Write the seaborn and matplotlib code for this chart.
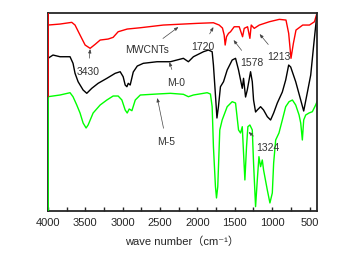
import numpy as np
import pandas as pd
import matplotlib
matplotlib.use("Agg")
import matplotlib.pyplot as plt
import seaborn as sns

# spectra (wavenumber in cm-1, transmittance in arbitrary units)
wn_cnt = [4000, 3839, 3682, 3638, 3571, 3503, 3436, 3369, 3302, 3195, 3128, 3061, 2940, 2765,
          2457, 2000, 1786, 1709, 1665, 1642, 1629, 1611, 1584, 1557, 1508, 1441, 1396, 1374,
          1329, 1298, 1280, 1240, 1172, 1038, 904, 815, 779, 748, 716, 681, 591, 501, 434, 400]
t_cnt = [186, 187, 188.7, 186, 176, 166, 162.7, 166.7, 171, 172, 173.7, 179.3, 182, 183.3,
         186, 187.7, 188.3, 186, 183, 176, 166, 174.3, 177.7, 179.3, 184.3, 184.3, 174.3, 182.7,
         184.3, 172.7, 186, 182.7, 186, 189.3, 191.7, 191, 177.7, 152.7, 167.7, 181, 186, 186, 189.3, 198]

wn_m0 = [4000, 3933, 3839, 3705, 3665, 3638, 3597, 3530, 3481, 3414, 3329, 3212, 3101, 3034,
         2994, 2967, 2944, 2926, 2900, 2859, 2805, 2725, 2541, 2363, 2188, 2121, 2054, 1920,
         1853, 1803, 1786, 1759, 1739, 1719, 1692, 1651, 1602, 1535, 1490, 1450, 1400, 1383,
         1356, 1333, 1289, 1266, 1249, 1222, 1199, 1155, 1115, 1065, 1021, 980, 931, 864,
         819, 779, 752, 685, 618, 578, 528, 484, 444, 400]
t_m0 = [152.7, 156, 154.3, 154.3, 147.7, 137.7, 129.3, 121, 117.7, 122.7, 127.7, 132.7, 137.7, 139.3,
        134.3, 126, 124.3, 127.7, 126, 139, 145, 147.7, 149.3, 149.3, 152.7, 149.3, 154.3, 159.3,
        161, 159.3, 146, 116, 93, 104.3, 124.3, 129.3, 141, 151, 152.7, 141, 122.7, 132.7,
        114, 121, 139.3, 129.3, 111, 99, 101, 104.3, 101, 94.3, 91, 98, 108, 119,
        131, 146, 144, 129.3, 111, 100, 119, 136, 166, 198]

wn_m5 = [4000, 3839, 3705, 3665, 3615, 3571, 3530, 3490, 3463, 3396, 3302, 3212, 3128, 3061,
         3011, 2967, 2940, 2913, 2877, 2832, 2765, 2541, 2363, 2188, 2121, 2054, 1870, 1826,
         1803, 1786, 1759, 1745, 1728, 1701, 1669, 1602, 1535, 1490, 1450, 1423, 1400, 1383,
         1365, 1343, 1325, 1298, 1266, 1249, 1222, 1199, 1177, 1155, 1132, 1115, 1065, 1030,
         998, 980, 953, 909, 864, 819, 774, 729, 685, 640, 618, 596, 578, 551, 507, 462, 418, 400]
t_m5 = [114.3, 116, 118.3, 114.3, 106, 98, 88, 83, 86, 98, 106, 111, 115, 115,
        111, 101, 98, 102, 100.3, 111, 116, 117, 117.7, 116.7, 114.3, 116, 118.3, 117,
        104.3, 64.3, 24.3, 13, 24.3, 81, 91, 104.3, 109.3, 108, 81, 78, 84.3, 58,
        31, 64.3, 84.3, 86, 81, 48, 4.3, 31, 54.3, 44.3, 51, 41, 21, 8,
        18, 48, 71, 78, 91, 104.3, 109.3, 111, 106, 96, 88, 71, 91, 96, 98, 99.3, 106, 109.3]

names = ["MWCNTs", "M-0", "M-5"]
colors = ["#ff0000", "#000000", "#00ff00"]

# peak labels: text, text position, arrow tip (wavenumber, transmittance)
labels = ["3430", "MWCNTs", "1720", "1578", "1213", "M-0", "M-5", "1324"]
label_xy = [(3463, 139), (2671, 161), (1933, 164), (1276, 148), (913, 154), (2282, 128), (2416, 69), (1061, 63)]
tip_xy = [(3436, 162), (2255, 184), (1786, 184), (1517, 171), (1168, 177), (2376, 149), (2537, 113), (1316, 79)]

df = pd.concat([
    pd.DataFrame({"wn": wn_cnt, "t": t_cnt, "sample": "MWCNTs"}),
    pd.DataFrame({"wn": wn_m0, "t": t_m0, "sample": "M-0"}),
    pd.DataFrame({"wn": wn_m5, "t": t_m5, "sample": "M-5"}),
])

sns.set_style("ticks")
plt.rcParams["font.family"] = ["Liberation Sans", "DejaVu Sans", "Noto Sans CJK SC"]

fig = plt.figure(figsize=(3.44, 2.56), dpi=100)
ax = fig.add_axes([0.1395, 0.176, 0.782, 0.773])

sns.lineplot(data=df, x="wn", y="t", hue="sample", hue_order=names, palette=colors,
             sort=False, estimator=None, linewidth=1.0, legend=False, ax=ax)

ax.set_xlim(4000, 400)
ax.set_ylim(0, 198)

# vertical edges at 4000 drawn by the spectra
ax.vlines(4000, t_m5[0], 198, color=colors[0], linewidth=1.3, zorder=5)
ax.vlines(4000, 0, t_m5[0], color=colors[2], linewidth=1.3, zorder=5)

for txt, xy, tip in zip(labels, label_xy, tip_xy):
    ax.annotate(txt, xy=tip, xytext=xy, fontsize=7.5, color="#333333",
                ha="center", va="center",
                arrowprops=dict(arrowstyle="-|>,head_length=0.3,head_width=0.12",
                                color="#444444", lw=0.5, shrinkA=4, shrinkB=0))

ax.set_xticks(np.arange(4000, 399, -500))
ax.set_xticks(np.arange(3750, 399, -500), minor=True)
ax.tick_params(axis="x", which="both", direction="in", length=3, width=1, labelsize=8, pad=5)
ax.set_yticks([])
ax.set_ylabel("")
ax.set_xlabel("wave number（cm⁻¹）", fontsize=8, labelpad=6,
              family=["Liberation Sans", "Noto Sans CJK SC", "DejaVu Sans"])
for s in ax.spines.values():
    s.set_linewidth(1.3)

fig.savefig("out.png", dpi=100)
